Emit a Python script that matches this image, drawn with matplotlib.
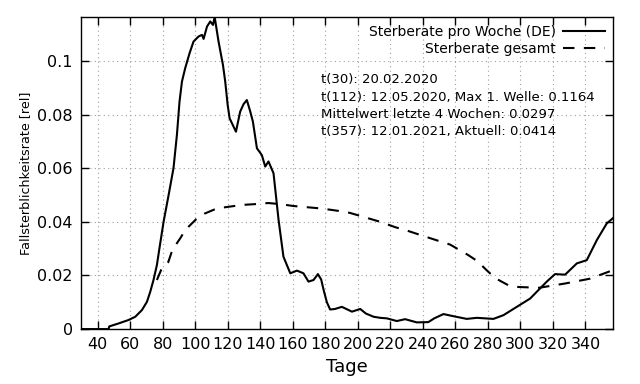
import matplotlib
matplotlib.use("Agg")
import matplotlib.pyplot as plt
from matplotlib.ticker import FuncFormatter

# Sterberate pro Woche (DE)
woche_tage = [30, 46.8, 47.2, 52.9, 59.1, 63.2, 67.3, 70.4, 72.4, 74.4, 76.5, 77.9,
              80.6, 83.7, 86.7, 88.8, 90.4, 91.9, 93.9, 96.6, 99, 102.1, 104.2, 105.2,
              107.3, 109.3, 111, 112, 114.4, 117.1, 118.5, 120, 121.2, 125.1, 127.7,
              129.8, 131.8, 133.9, 135.5, 138, 141, 143.1, 145.1, 148.2, 151.3,
              154.3, 158.5, 162.6, 166.6, 169.7, 172.8, 175.5, 177.5, 179, 181, 183,
              186, 190.2, 196.4, 201.5, 205, 209.7, 213.8, 217.9, 224, 229.1, 236.3,
              243.4, 247, 252.7, 258.8, 267, 273.2, 283.4, 289.6, 297.8, 306, 316.2,
              321.3, 327.5, 334.7, 340.8, 347, 353.1, 357]
woche_rate = [0, 0, 0.0010, 0.0021, 0.0034, 0.0046, 0.0071, 0.0102, 0.0139, 0.0183,
              0.0239, 0.0295, 0.0400, 0.0500, 0.0600, 0.0724, 0.0848, 0.0923, 0.0973,
              0.1029, 0.1072, 0.1091, 0.1097, 0.1082, 0.1128, 0.1147, 0.1134, 0.1164,
              0.1072, 0.0985, 0.0923, 0.0836, 0.0786, 0.0736, 0.0811, 0.0839, 0.0854,
              0.0811, 0.0774, 0.0674, 0.0649, 0.0606, 0.0625, 0.0581, 0.0407, 0.027,
              0.0208, 0.0218, 0.0208, 0.0177, 0.0183, 0.0205, 0.0185, 0.0146, 0.0100,
              0.0073, 0.0075, 0.0083, 0.0065, 0.0075, 0.0058, 0.0046, 0.0042, 0.0040,
              0.0030, 0.0037, 0.0025, 0.0026, 0.0040, 0.0056, 0.0048, 0.0038, 0.0042,
              0.0038, 0.0052, 0.0083, 0.0114, 0.0177, 0.0205, 0.0203, 0.0245, 0.0257,
              0.0332, 0.0394, 0.0414]

# Sterberate gesamt
gesamt_tage = [76.5, 79.6, 83.5, 86, 91, 94, 100.7, 105.6, 113.4, 120.5, 129, 137, 145,
               152.3, 160.3, 167.7, 176.9, 184.3, 192.3, 195.3, 213.8, 223, 230.4,
               241.4, 256.8, 267.9, 273.4, 279.5, 284.5, 292.4, 298.6, 311.5, 327.5,
               342.8, 357]
gesamt_rate = [0.0183, 0.0228, 0.025, 0.0295, 0.034, 0.037, 0.041, 0.043, 0.045, 0.0456,
               0.0463, 0.0466, 0.047, 0.0466, 0.0459, 0.0455, 0.045, 0.0444, 0.0437,
               0.0433, 0.040, 0.038, 0.0367, 0.0345, 0.0315, 0.0276, 0.0254, 0.0218,
               0.019, 0.0164, 0.0157, 0.0154, 0.017, 0.0188, 0.0220]

x_ticks = list(range(40, 341, 20))
y_ticks = [0, 0.02, 0.04, 0.06, 0.08, 0.1]

info_lines = [
    "t(30): 20.02.2020",
    "t(112): 12.05.2020, Max 1. Welle: 0.1164",
    "Mittelwert letzte 4 Wochen: 0.0297",
    "t(357): 12.01.2021, Aktuell: 0.0414",
]

fig, ax = plt.subplots(figsize=(6.4, 3.84), dpi=100)
fig.subplots_adjust(left=0.127, right=0.958, bottom=0.143, top=0.956)

ax.plot(woche_tage, woche_rate, color="black", linewidth=1.5,
        label="Sterberate pro Woche (DE)")
ax.plot(gesamt_tage, gesamt_rate, color="black", linewidth=1.5,
        dashes=(5.5, 4.5), label="Sterberate gesamt")

ax.set_xlim(30, 357)
ax.set_ylim(0, 0.1164)
ax.set_xticks(x_ticks)
ax.set_yticks(y_ticks)
ax.yaxis.set_major_formatter(FuncFormatter(lambda v, pos: f"{v:g}"))
ax.tick_params(direction="in", top=True, right=True, length=6, width=1,
               labelsize=11.5, pad=6)
for spine in ax.spines.values():
    spine.set_linewidth(1.0)

ax.grid(True, linestyle=(0, (1, 3)), color="#a0a0a0", linewidth=0.8)

ax.set_xlabel("Tage", fontsize=13)
ax.set_ylabel("Fallsterblichkeitsrate [rel]", fontsize=9.2)

ax.legend(loc="upper right", frameon=False, markerfirst=False, fontsize=10,
          handlelength=3.0, handletextpad=0.5, borderaxespad=0.2,
          labelspacing=0.2)

ax.text(0.451, 0.819, "\n".join(info_lines), transform=ax.transAxes,
        fontsize=9.5, va="top", ha="left", linespacing=1.41)

fig.savefig("out.png", dpi=100)
plt.close(fig)
